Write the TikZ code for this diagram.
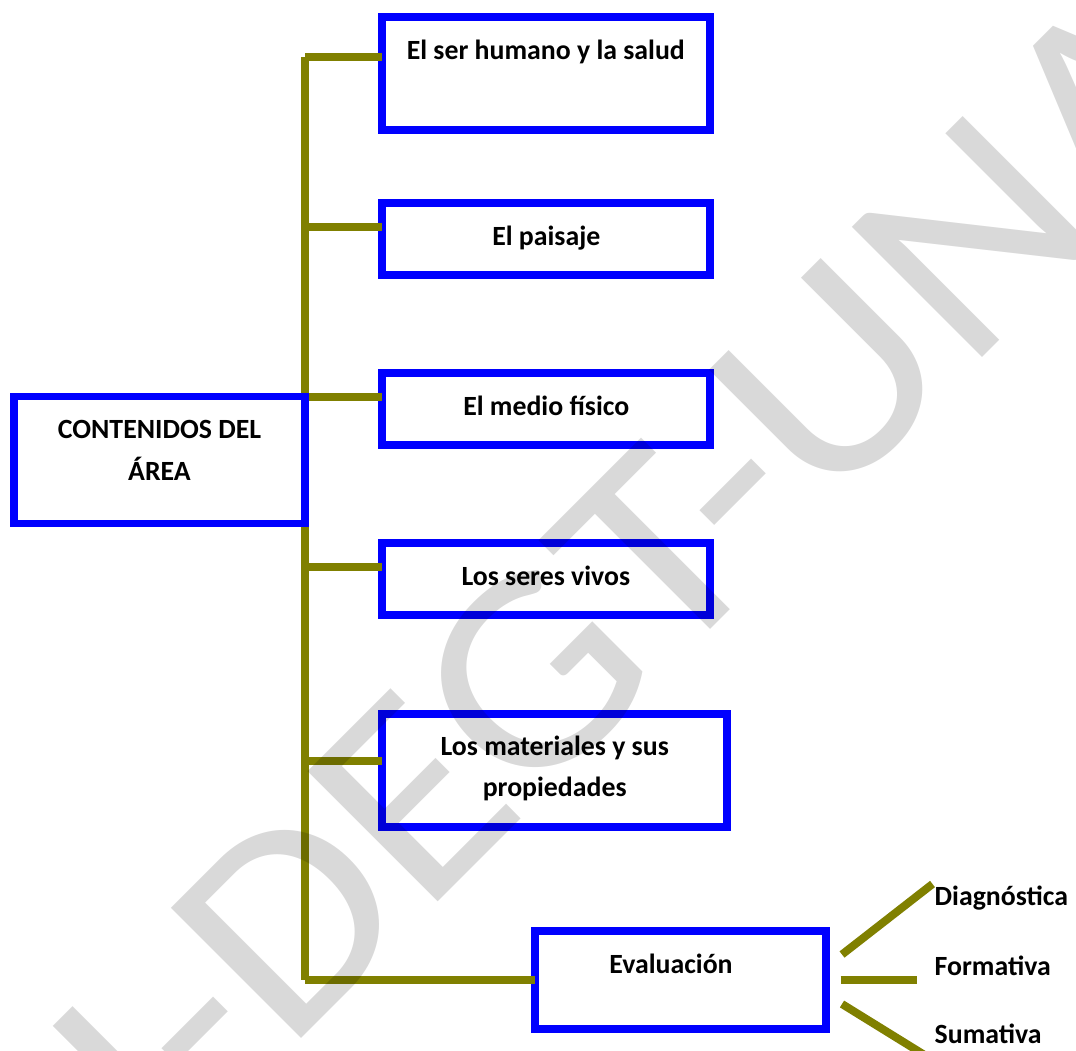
\documentclass[tikz,border=0pt]{standalone}
\usepackage{fontspec}
\setmainfont{Carlito}
\newfontfamily\markfont[FakeStretch=1.09]{Carlito}
\usetikzlibrary{calc}
\definecolor{boxblue}{RGB}{0,0,255}
\definecolor{linkolive}{RGB}{128,128,0}

\begin{document}
\begin{tikzpicture}[x=1pt,y=-1pt,
  box/.style={draw=boxblue, line width=7.9pt, rectangle, inner sep=0pt, outer sep=0pt},
  lbl/.style={font=\bfseries\fontsize{27.8pt}{42pt}\selectfont, inner sep=0pt, anchor=base, align=center},
  sublbl/.style={font=\bfseries\fontsize{27.8pt}{42pt}\selectfont, inner sep=0pt, anchor=base west},
  link/.style={draw=linkolive, line width=8pt},
  wm/.style={font=\markfont\fontsize{287pt}{287pt}\selectfont, rotate=45, anchor=base west,
             inner sep=0pt, text=black, text opacity=0.15},
  ]
\useasboundingbox (0,0) rectangle (1076,1051);
\clip (0,0) rectangle (1076,1051);
\fill[white] (0,0) rectangle (1076,1051);

% topic boxes
\node[box, minimum width=328.5pt, minimum height=113.2pt] (b1)   at (545.85,73.8) {};
\node[box, minimum width=328.5pt, minimum height=72.2pt]  (b2)   at (545.85,239)  {};
\node[box, minimum width=328.5pt, minimum height=72.8pt]  (b3)   at (545.85,409)  {};
\node[box, minimum width=328.5pt, minimum height=72.5pt]  (b4)   at (545.85,579.15) {};
\node[box, minimum width=345.8pt, minimum height=112.9pt] (b5)   at (554.5,770.35) {};
\node[box, minimum width=291.5pt, minimum height=97.6pt]  (ev)   at (680.35,980)  {};

% box texts (two-line texts are anchored on their last baseline)
\node[lbl] (t1) at (545.8,59.3)  {El ser humano y la salud};
\node[lbl] (t2) at (546.3,245)   {El paisaje};
\node[lbl] (t3) at (546.3,415)   {El medio físico};
\node[lbl] (t4) at (545.8,585.3) {Los seres vivos};
\node[lbl,font=\bfseries\fontsize{27.8pt}{41.7pt}\selectfont] (t5) at (554.7,796.7) {Los materiales y sus\\propiedades};
\node[lbl] (tev) at (671,973.3)  {Evaluación};

% kinds of evaluation
\node[sublbl] (d1) at (934.5,905)    {Diagnóstica};
\node[sublbl] (d2) at (934.5,975)    {Formativa};
\node[sublbl] (d3) at (934.5,1043.3) {Sumativa};

% trunk and branches
\coordinate (j1) at (305,57);
\coordinate (j2) at (305,226.7);
\coordinate (j3) at (305,396.7);
\coordinate (j4) at (305,566.7);
\coordinate (j5) at (305,761.3);
\coordinate (j6) at (305,980);
\draw[link] (j1) -- (j6);
\draw[link] (j1) -- (j1 -| b1.west);
\draw[link] (j2) -- (j2 -| b2.west);
\draw[link] (j3) -- (j3 -| b3.west);
\draw[link] (j4) -- (j4 -| b4.west);
\draw[link] (j5) -- (j5 -| b5.west);
\draw[link] (j6) -- (ev.west);

% root box, drawn over the trunk
\node[box, minimum width=290.8pt, minimum height=127pt] (root) at (159.6,460) {};
\node[lbl] (troot) at (159.5,480.7) {CONTENIDOS DEL\\ÁREA};

% evaluation fan
\coordinate (e1) at (842,954.5);
\coordinate (f1) at (932.5,884);
\coordinate (e2) at (840.7,979.5);
\coordinate (f2) at (917.3,979.5);
\coordinate (e3) at (842,1004);
\coordinate (f3) at (952,1072);
\draw[link] (e1) -- (f1);
\draw[link] (e2) -- (f2);
\draw[link] (e3) -- (f3);

% watermark
\node[wm] (mark) at (-332.4,1672.4) {UNAH-DEGT-UNAH};
\end{tikzpicture}
\end{document}
